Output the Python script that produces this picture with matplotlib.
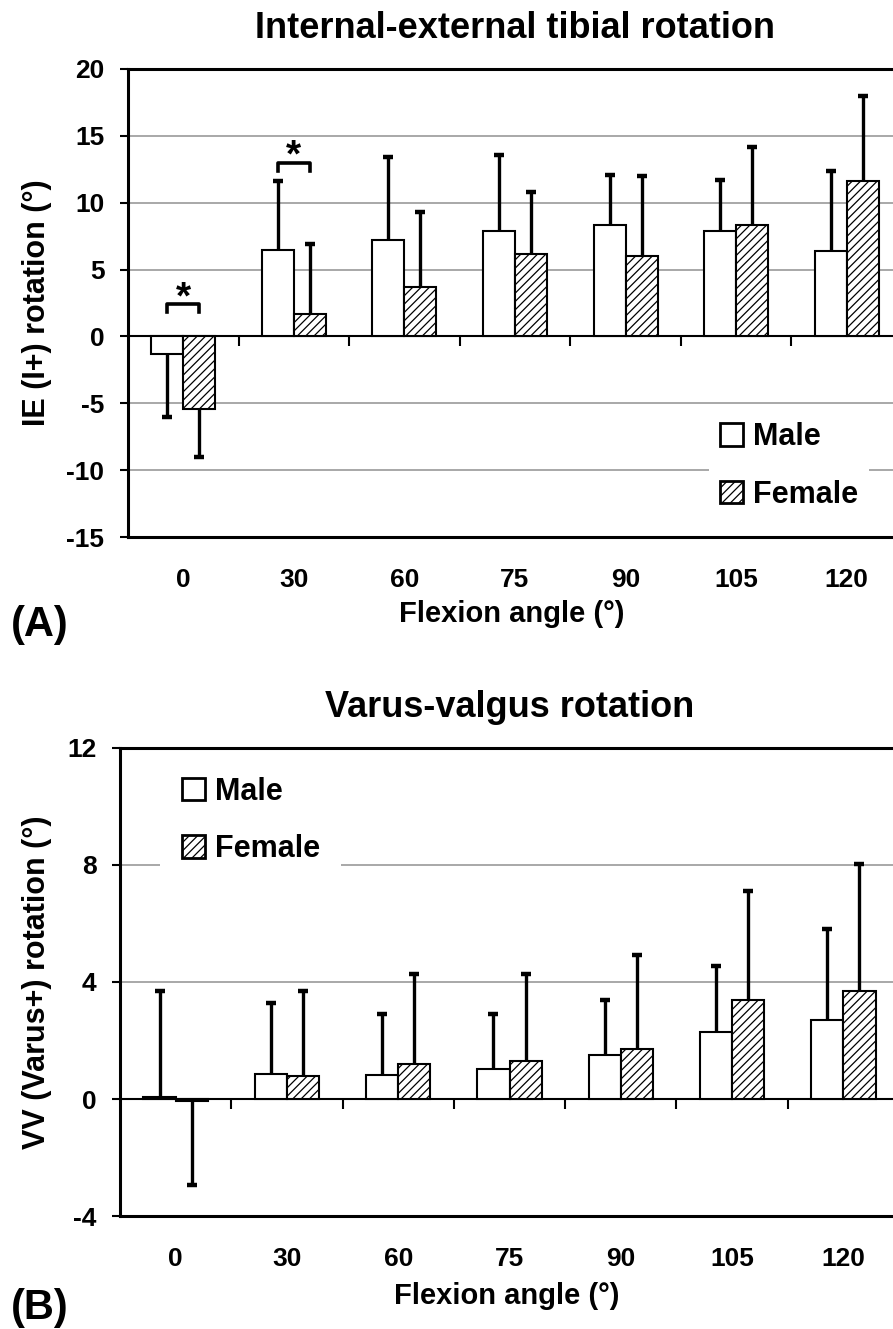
import matplotlib.pyplot as plt
import numpy as np
from matplotlib.patches import Patch

plt.rcParams['font.family'] = ['Liberation Sans', 'DejaVu Sans']
plt.rcParams['axes.unicode_minus'] = False
plt.rcParams['hatch.linewidth'] = 0.9

# ---- data ----
angles = ['0', '30', '60', '75', '90', '105', '120']

ie_male = [-1.3, 6.5, 7.2, 7.9, 8.3, 7.9, 6.4]
ie_male_sd = [4.7, 5.1, 6.2, 5.7, 3.8, 3.8, 6.0]
ie_female = [-5.4, 1.7, 3.7, 6.2, 6.0, 8.3, 11.6]
ie_female_sd = [3.6, 5.2, 5.6, 4.6, 6.0, 5.9, 6.4]

vv_male = [0.06, 0.85, 0.83, 1.03, 1.51, 2.28, 2.71]
vv_male_sd = [3.62, 2.43, 2.07, 1.87, 1.88, 2.26, 3.09]
vv_female = [-0.08, 0.80, 1.20, 1.29, 1.71, 3.38, 3.70]
vv_female_sd = [2.85, 2.88, 3.06, 2.97, 3.21, 3.73, 4.34]

# significant differences (index of angle, bracket height)
sig_idx = [0, 1]
sig_y = [2.4, 13.0]

w = 0.29
hatch = '////'


def panel(ax, male, male_sd, female, female_sd, ylim, yticks, title, ylabel):
    x = np.arange(len(angles))
    ax.bar(x - w/2, male, w, color='white', edgecolor='black', linewidth=1.5, zorder=3)
    ax.bar(x + w/2, female, w, color='white', edgecolor='black', hatch=hatch,
           linewidth=1.5, zorder=3)

    # one sided error bars, in the direction of the mean
    for xs, m, sd in [(x - w/2, male, male_sd), (x + w/2, female, female_sd)]:
        m = np.array(m)
        tip = m + np.sign(m) * np.array(sd)
        ax.vlines(xs, m, tip, color='black', lw=2.4, zorder=4)
        ax.plot(xs, tip, ls='none', marker='_', ms=7, mew=3.2, color='black', zorder=4)

    ax.set_xlim(-0.5, len(angles) - 0.5)
    ax.set_ylim(*ylim)
    ax.set_yticks(yticks)
    ax.yaxis.grid(True, color='#999999', lw=1.2)
    ax.set_axisbelow(True)
    ax.axhline(0, color='black', lw=1.5, zorder=2.5)

    # category separators on the zero line
    tl = (ylim[1] - ylim[0]) * 10 / 468
    ax.vlines(x[:-1] + 0.5, 0, -tl, color='black', lw=1.5, zorder=2.5)

    ax.set_xticks(x)
    ax.set_xticklabels(angles)
    ax.tick_params(axis='x', length=0, pad=22, labelsize=19)
    ax.tick_params(axis='y', length=6, width=1.5, pad=11, labelsize=19)
    for lab in ax.get_xticklabels() + ax.get_yticklabels():
        lab.set_fontweight('bold')
    for sp in ax.spines.values():
        sp.set_linewidth(2.2)

    ax.set_title(title, fontsize=26, fontweight='bold', pad=22)
    ax.set_ylabel(ylabel, fontsize=22, fontweight='bold')
    ax.set_xlabel('Flexion angle (°)', fontsize=21, fontweight='bold')


fig = plt.figure(figsize=(8.93, 13.29), dpi=100)
axA = fig.add_axes([0.1433, 0.5959, 0.8668, 0.3522])
axB = fig.add_axes([0.1344, 0.0850, 0.8723, 0.3522])

panel(axA, ie_male, ie_male_sd, ie_female, ie_female_sd, (-15, 20),
      np.arange(-15, 21, 5), 'Internal-external tibial rotation', 'IE (I+) rotation (°)')
panel(axB, vv_male, vv_male_sd, vv_female, vv_female_sd, (-4, 12),
      np.arange(-4, 13, 4), 'Varus-valgus rotation', 'VV (Varus+) rotation (°)')

axA.yaxis.set_label_coords(-0.098, 0.5)
axA.xaxis.set_label_coords(0.496, -0.135)
axB.yaxis.set_label_coords(-0.087, 0.5)
axB.xaxis.set_label_coords(0.497, -0.141)

# significance brackets
for i, yb in zip(sig_idx, sig_y):
    x1, x2 = i - w/2, i + w/2
    axA.plot([x1, x1, x2, x2], [yb - 0.6, yb, yb, yb - 0.6], color='black', lw=2.6,
             zorder=4)
    axA.text(i, yb - 0.3, '*', ha='center', va='baseline', fontsize=28,
             fontweight='bold', zorder=5)

handles = [Patch(facecolor='white', edgecolor='black', lw=2),
           Patch(facecolor='white', edgecolor='black', hatch=hatch, lw=2)]
leg_kw = dict(frameon=True, fancybox=False, edgecolor='none', facecolor='white',
              framealpha=1, handlelength=0.75, handleheight=0.75, handletextpad=0.33,
              labelspacing=0.9, prop={'size': 22, 'weight': 'bold'})
legA = axA.legend(handles, ['Male', 'Female'], loc='center', borderpad=0.35,
                  bbox_to_anchor=(0.854, 0.152), **leg_kw)
legB = axB.legend(handles, ['Male', 'Female'], loc='center', borderpad=0.7,
                  bbox_to_anchor=(0.168, 0.845), **leg_kw)
legA.set_zorder(5)
legB.set_zorder(5)

fig.text(0.012, 0.5297, '(A)', fontsize=30, fontweight='bold', va='center')
fig.text(0.012, 0.0158, '(B)', fontsize=30, fontweight='bold', va='center')

fig.savefig('out.png', dpi=100)
